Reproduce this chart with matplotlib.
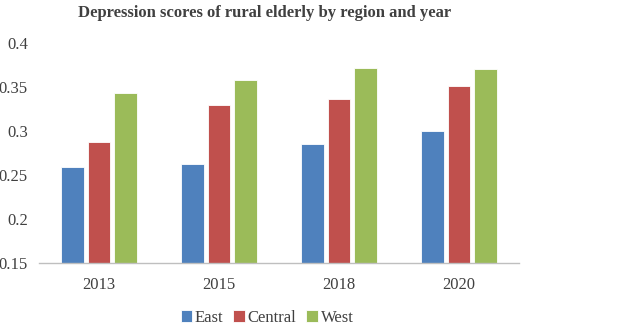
import numpy as np
import matplotlib.pyplot as plt

# Data
years = ['2013', '2015', '2018', '2020']
east = [0.259, 0.263, 0.285, 0.300]
central = [0.288, 0.330, 0.336, 0.351]
west = [0.343, 0.358, 0.372, 0.370]
series_names = ['East', 'Central', 'West']
colors = ['#4F81BD', '#C0504D', '#9BBB59']

plt.rcParams['font.family'] = ['Liberation Serif', 'DejaVu Serif']

fig = plt.figure(figsize=(6.24, 3.28), dpi=100)
ax = fig.add_axes([39 / 624, 1 - 263 / 328, 480 / 624, 220 / 328])

x = np.arange(len(years))
offset = 0.222
width = 0.19
for i, (vals, name, c) in enumerate(zip([east, central, west], series_names, colors)):
    ax.bar(x + (i - 1) * offset, vals, width=width, color=c, label=name,
           edgecolor='white', linewidth=0.6)

ax.set_xlim(-0.5, 3.5)
ax.set_ylim(0.15, 0.4)
ax.set_yticks([0.15, 0.2, 0.25, 0.3, 0.35, 0.4])
ax.set_yticklabels(['0.15', '0.2', '0.25', '0.3', '0.35', '0.4'])
ax.set_xticks(x)
ax.set_xticklabels(years)
ax.tick_params(axis='both', length=0, labelsize=12, colors='#404040')
ax.tick_params(axis='x', pad=10)
ax.tick_params(axis='y', pad=8)
for s in ['top', 'right', 'left']:
    ax.spines[s].set_visible(False)
ax.spines['bottom'].set_color('#BFBFBF')
ax.spines['bottom'].set_linewidth(1)

fig.text(265 / 624, 1 - 13 / 328, 'Depression scores of rural elderly by region and year',
         ha='center', va='center', fontsize=12, fontweight='bold', color='#404040')

fig.legend(loc='center', bbox_to_anchor=(267 / 624, 1 - 318 / 328), ncol=3,
           frameon=False, fontsize=12, handlelength=0.7, handleheight=0.7,
           handletextpad=0.15, columnspacing=0.6, labelcolor='#404040')

fig.savefig('out.png', dpi=100)
